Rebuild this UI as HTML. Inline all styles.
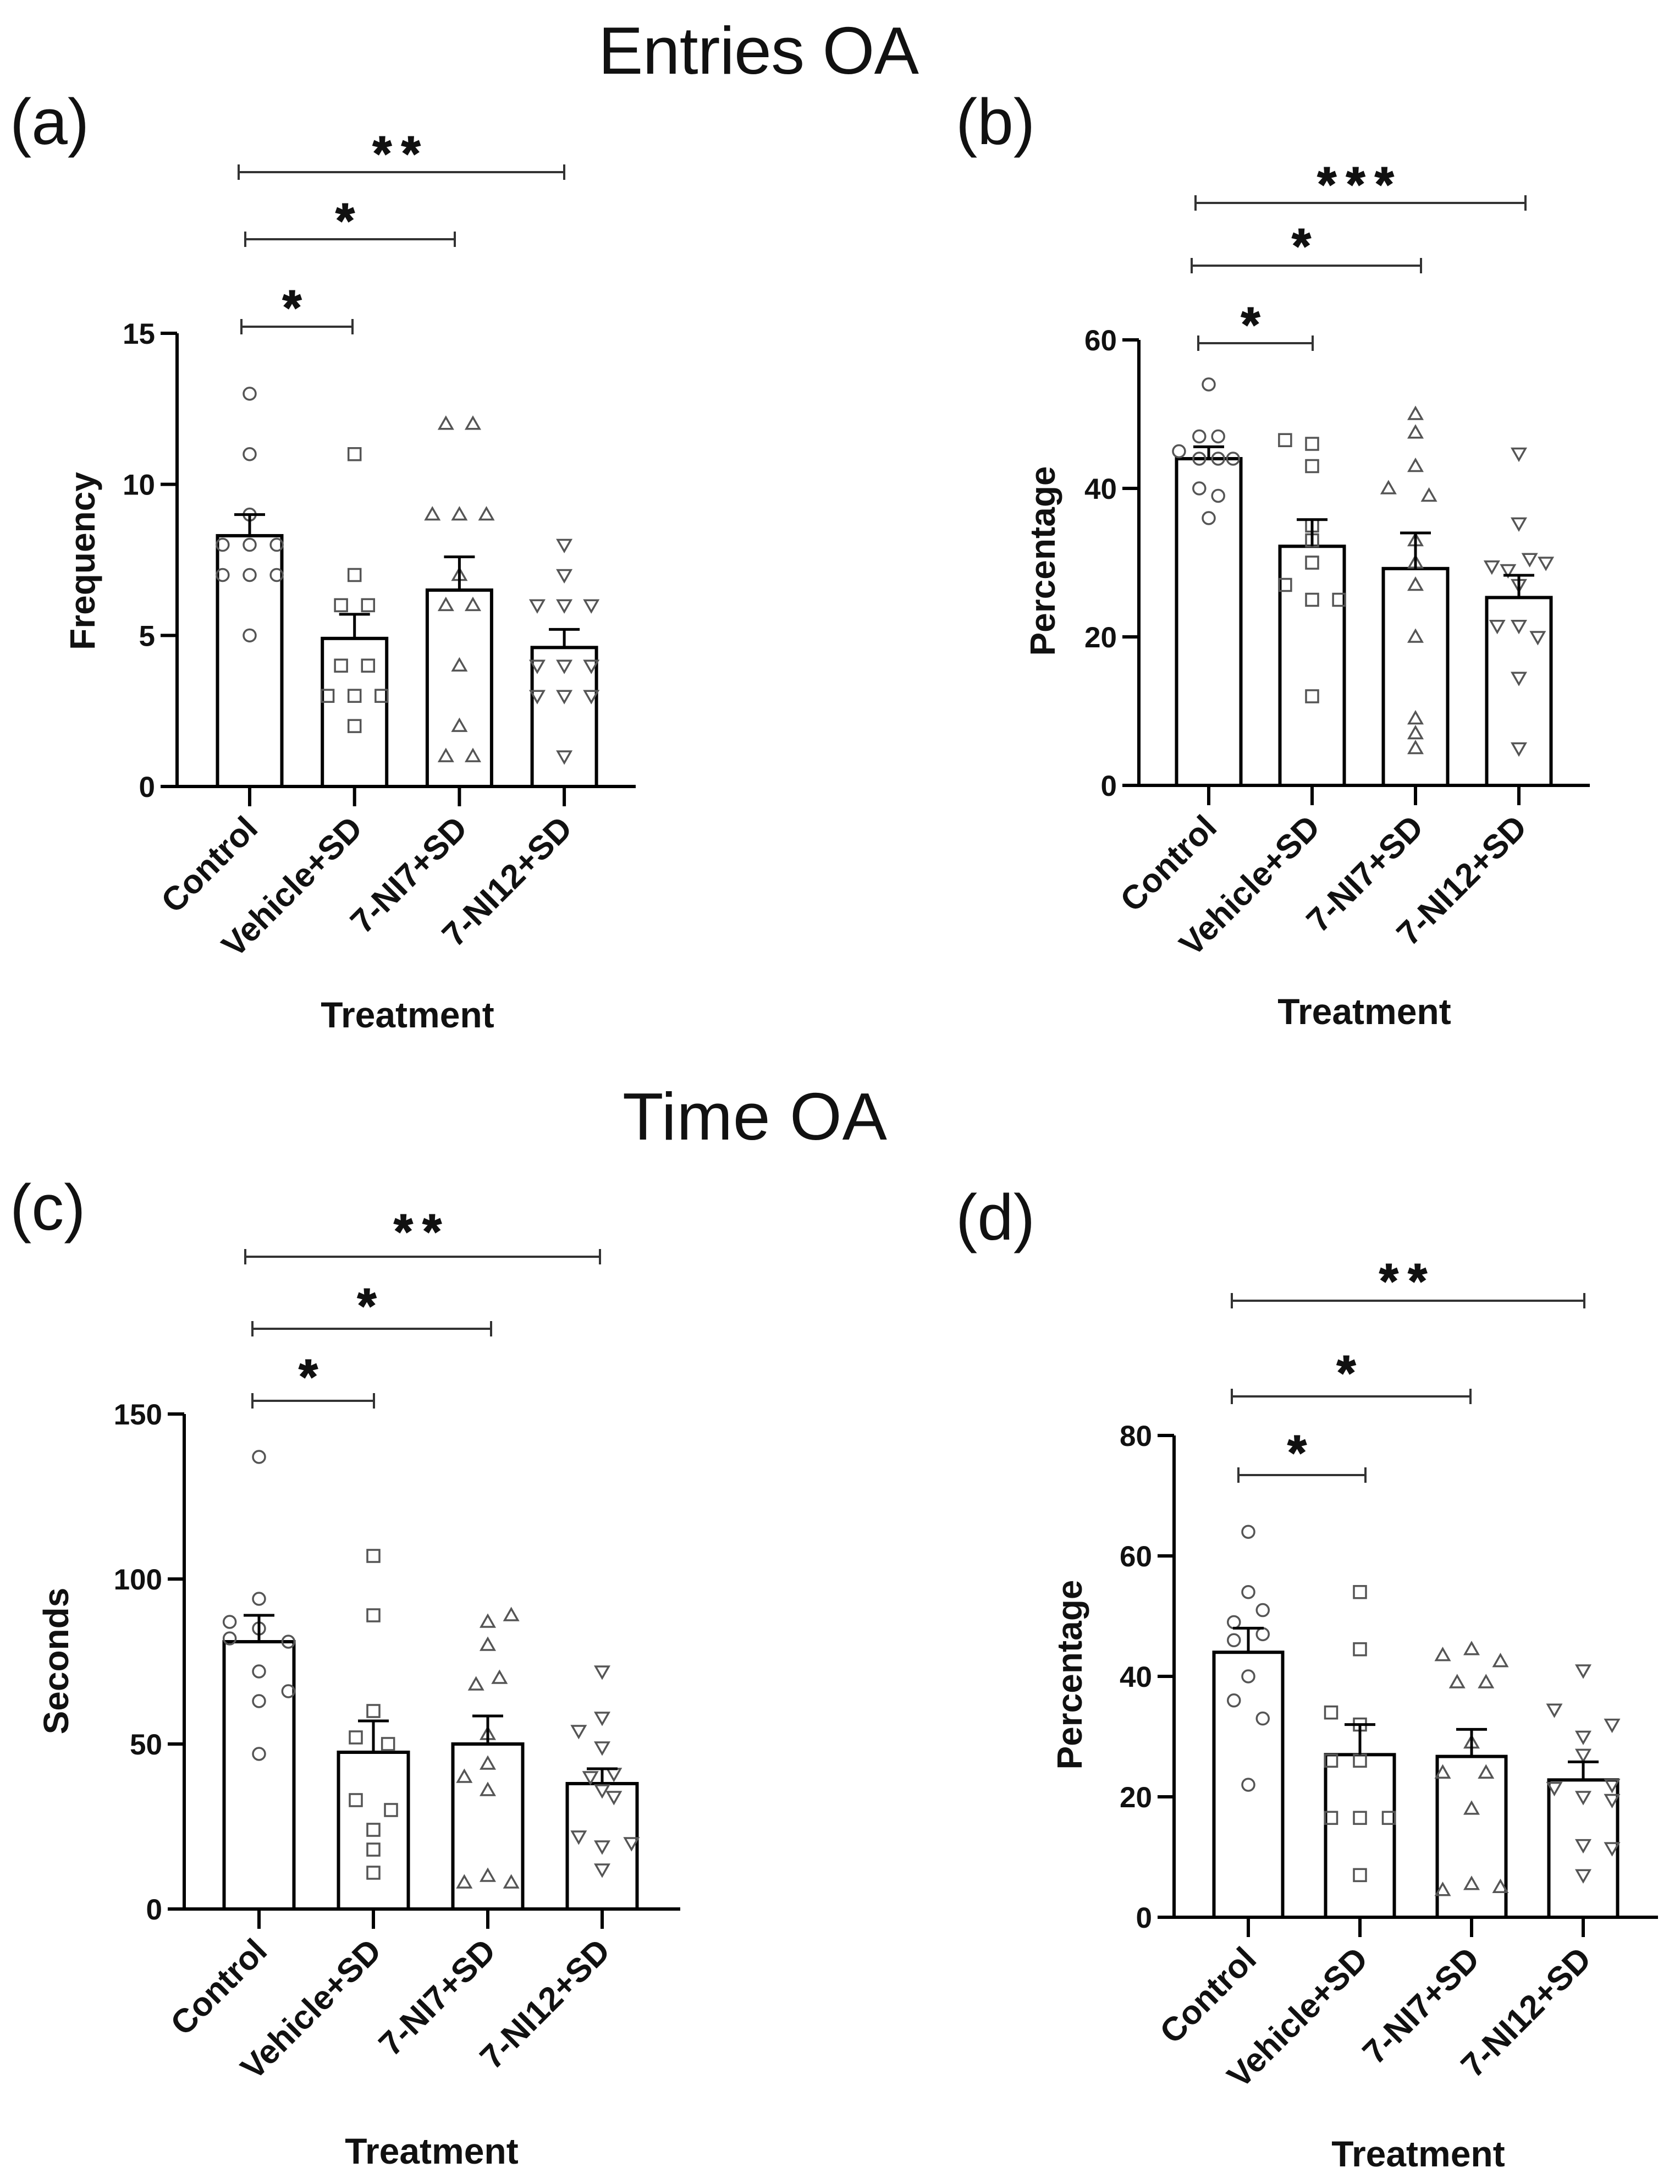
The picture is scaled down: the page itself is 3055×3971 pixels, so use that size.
<!DOCTYPE html>
<html><head><meta charset="utf-8"><style>
html,body{margin:0;padding:0;background:#fff;}
svg{display:block;}
text{font-family:"Liberation Sans",Arial,sans-serif;}
</style></head>
<body>
<svg id="fig" width="3055" height="3971" viewBox="0 0 3055 3971" xmlns="http://www.w3.org/2000/svg">
<rect width="3055" height="3971" fill="#fff"/>
<text x="1088" y="134" font-size="122" textLength="583" fill="#111">Entries OA</text>
<text x="1132" y="2072" font-size="122" textLength="481" fill="#111">Time OA</text>
<text x="18" y="262" font-size="118" fill="#111">(a)</text>
<text x="1738" y="262" font-size="118" fill="#111">(b)</text>
<text x="18" y="2236" font-size="118" fill="#111">(c)</text>
<text x="1738" y="2254" font-size="118" fill="#111">(d)</text>
</svg>
<script>
const categories = ["Control","Vehicle+SD","7-NI7+SD","7-NI12+SD"];
const markers = ["circle","square","triangle","tridown"];

// Panel (a) Entries OA frequency
const aMeans = [8.3, 4.9, 6.5, 4.6];
const aSem = [0.7, 0.8, 1.1, 0.6];
const aPoints = [
  [13,11,9,8,8,8,7,7,7,5],
  [11,7,6,6,4,4,3,3,3,2],
  [12,12,9,9,9,7,6,6,4,2,1,1],
  [8,7,6,6,6,4,4,4,3,3,3,1]
];
const aJitter = [
  [0,0,0,-1,0,1,-1,0,1,0],
  [0,0,-0.5,0.5,-0.5,0.5,-1,0,1,0],
  [-0.5,0.5,-1,0,1,0,-0.5,0.5,0,0,-0.5,0.5],
  [0,0,-1,0,1,-1,0,1,-1,0,1,0]
];
const aTicks = [0,5,10,15];

// Panel (b) Entries OA percentage
const bMeans = [44, 32.2, 29.2, 25.3];
const bSem = [1.6, 3.6, 4.8, 3.0];
const bPoints = [
  [54,47,47,45,44,44,44,40,39,36],
  [46.5,46,43,35,33,30,27,25,25,12],
  [50,47.5,43,40,39,33,30,27,20,9,7,5],
  [44.7,35.3,30.5,30,29.5,29,27,21.5,21.5,20,14.5,5]
];
const bJitter = [
  [0,-0.35,0.35,-1.1,-0.35,0.35,0.9,-0.35,0.35,0],
  [-1,0,0,0,0,0,-1,0,1,0],
  [0,0,0,-1,0.5,0,0,0,0,0,0,0],
  [0,0,0.4,1,-1,-0.4,0,-0.8,0,0.7,0,0]
];
const bTicks = [0,20,40,60];

// Panel (c) Time OA seconds
const cMeans = [81, 47.5, 50, 38];
const cSem = [8, 9.5, 8.5, 4.5];
const cPoints = [
  [137,94,87,85,82,81,72,66,63,47],
  [107,89,60,52,50,33,30,24,18,11],
  [89,87,80,70,68,53,44,40,36,10,8,8],
  [72,58,54,49,41,40,36,34,22,20,19,12]
];
const cJitter = [
  [0,0,-1,0,-1,1,0,1,0,0],
  [0,0,0,-0.6,0.5,-0.6,0.6,0,0,0],
  [0.8,0,0,0.4,-0.4,0,0,-0.8,0,0,-0.8,0.8],
  [0,0,-0.8,0,0.4,-0.4,0,0.4,-0.8,1,0,0]
];
const cTicks = [0,50,100,150];

// Panel (d) Time OA percentage
const dMeans = [44, 27, 26.7, 22.8];
const dSem = [4, 5, 4.5, 3];
const dPoints = [
  [64,54,51,49,47,46,40,36,33,22],
  [54,44.5,34,32,26,26,16.5,16.5,16.5,7],
  [44.5,43.5,42.5,39,39,29,24,24,18,5.5,5,4.5],
  [41,34.5,32,30,27,22,21.5,20,19.5,12,11.5,7]
];
const dJitter = [
  [0,0,0.5,-0.5,0.5,-0.5,0,-0.5,0.5,0],
  [0,0,-1,0,-1,0,-1,0,1,0],
  [0,-1,1,-0.5,0.5,0,-1,0.5,0,0,1,-1],
  [0,-1,1,0,0,1,-1,0,1,0,1,0]
];
const dTicks = [0,20,40,60,80];

const NS = "http://www.w3.org/2000/svg";
const svg = document.getElementById("fig");
function mk(tag, attrs, parent){
  const e = document.createElementNS(NS, tag);
  for (const k in attrs) e.setAttribute(k, attrs[k]);
  (parent||svg).appendChild(e);
  return e;
}

function drawPanel(p){
  const g = mk("g", {});
  
  
  const yScale = v => p.y0 - (v - 0) / p.yMax * (p.y0 - p.yTop);
  const xScale = i => p.xs0 + i * p.step;
  const lw = 6;
  p.means.forEach((m,i)=>{
    const cx = xScale(i), top = yScale(m);
    const r = mk("rect", {x:cx-p.bw/2, y:top, width:p.bw, height:p.y0-top, fill:"#fff", stroke:"#000", "stroke-width":lw}, g);
    
    
  });
  p.points.forEach((arr,i)=>{
    arr.forEach((v,j)=>{
      const cx = xScale(i) + p.jit[i][j]*p.bw*0.42, cy = yScale(v);
      const type = markers[i];
      let e;
      const st = {fill:"none", stroke:"#555", "stroke-width":3.5};
      if (type==="circle") e = mk("circle", Object.assign({cx:cx, cy:cy, r:11}, st), g);
      else if (type==="square") e = mk("rect", Object.assign({x:cx-11, y:cy-11, width:22, height:22}, st), g);
      else if (type==="triangle") e = mk("polygon", Object.assign({points:`${cx},${cy-12} ${cx-12},${cy+9} ${cx+12},${cy+9}`}, st), g);
      else e = mk("polygon", Object.assign({points:`${cx},${cy+12} ${cx-12},${cy-9} ${cx+12},${cy-9}`}, st), g);
      
      
    });
  });
  p.means.forEach((m,i)=>{
    const cx = xScale(i), yt = yScale(m + p.sem[i]), ym = yScale(m);
    const e = mk("path", {d:`M${cx},${ym} V${yt} M${cx-28},${yt} H${cx+28}`, stroke:"#000", "stroke-width":5, fill:"none"}, g);
    
    
  });
  const ya = mk("path", {d:`M${p.ax},${p.yTop} V${p.y0}`, stroke:"#000", "stroke-width":lw, fill:"none"}, g);
  
  
  const xa = mk("path", {d:`M${p.ax-30},${p.y0} H${p.xEnd}`, stroke:"#000", "stroke-width":lw, fill:"none"}, g);
  
  
  p.ticks.forEach(t=>{
    const y = yScale(t);
    const tk = mk("path", {d:`M${p.ax-30},${y} H${p.ax}`, stroke:"#000", "stroke-width":lw}, g);
    
    
    const tl = mk("text", {x:p.ax-40, y:y+19, "font-size":53, "font-weight":"bold", "text-anchor":"end", fill:"#111"}, g);
    tl.textContent = t;
    
    
  });
  categories.forEach((c,i)=>{
    const cx = xScale(i);
    const tk = mk("path", {d:`M${cx},${p.y0} V${p.y0+36}`, stroke:"#000", "stroke-width":lw}, g);
    
    
    const tl = mk("text", {x:cx+18, y:p.y0+80, "font-size":61, "font-weight":"bold", "text-anchor":"end", fill:"#111", transform:`rotate(-45 ${cx+18} ${p.y0+80})`}, g);
    tl.textContent = c;
    
    
  });
  const yl = mk("text", {x:p.ylx, y:p.yly, "font-size":64, "font-weight":"bold", "text-anchor":"middle", fill:"#111", transform:`rotate(-90 ${p.ylx} ${p.yly})`}, g);
  yl.textContent = p.yLabel;
  
  
  const xl = mk("text", {x:p.xlx, y:p.xly, "font-size":66, "font-weight":"bold", "text-anchor":"middle", fill:"#111"}, g);
  xl.textContent = "Treatment";
  
  
  p.brackets.forEach((b,kk)=>{
    const [x1,x2,y,sy,label] = b;
    const e = mk("path", {d:`M${x1},${y-14} V${y+14} M${x1},${y} H${x2} M${x2},${y-14} V${y+14}`, stroke:"#333", "stroke-width":4, fill:"none"}, g);
    
    
    const s = mk("text", {x:(x1+x2)/2, y:sy+48, "font-size":88, "font-weight":"bold", "text-anchor":"middle", "letter-spacing":18, fill:"#111", stroke:"#111", "stroke-width":2}, g);
    s.textContent = label;
    
    
  });
}

drawPanel({id:"panel-a", means:aMeans, sem:aSem, points:aPoints, jit:aJitter, ticks:aTicks, yMax:15,
  ax:322, y0:1430, yTop:606, xs0:454, step:190.7, bw:117, xEnd:1156, yLabel:"Frequency",
  ylx:172, yly:1020, xlx:741, xly:1868,
  brackets:[[439,641,594,541,"*"],[446,827,435,383,"*"],[434,1026,313,261,"**"]]});
drawPanel({id:"panel-b", means:bMeans, sem:bSem, points:bPoints, jit:bJitter, ticks:bTicks, yMax:60,
  ax:2071, y0:1428, yTop:618, xs0:2198, step:188, bw:117, xEnd:2891, yLabel:"Percentage",
  ylx:1918, yly:1020, xlx:2481, xly:1862,
  brackets:[[2179,2387,624,572,"*"],[2167,2584,483,429,"*"],[2174,2774,369,317,"***"]]});
drawPanel({id:"panel-c", means:cMeans, sem:cSem, points:cPoints, jit:cJitter, ticks:cTicks, yMax:150,
  ax:335, y0:3471, yTop:2571, xs0:471, step:208, bw:127, xEnd:1237, yLabel:"Seconds",
  ylx:124, yly:3020, xlx:785, xly:3934,
  brackets:[[459,680,2547,2485,"*"],[459,893,2416,2356,"*"],[446,1091,2285,2221,"**"]]});
drawPanel({id:"panel-d", means:dMeans, sem:dSem, points:dPoints, jit:dJitter, ticks:dTicks, yMax:80,
  ax:2135, y0:3486, yTop:2610, xs0:2270, step:203, bw:125, xEnd:3015, yLabel:"Percentage",
  ylx:1967, yly:3045, xlx:2579, xly:3939,
  brackets:[[2252,2483,2682,2623,"*"],[2240,2674,2539,2478,"*"],[2240,2881,2365,2311,"**"]]});
</script>
</body></html>
